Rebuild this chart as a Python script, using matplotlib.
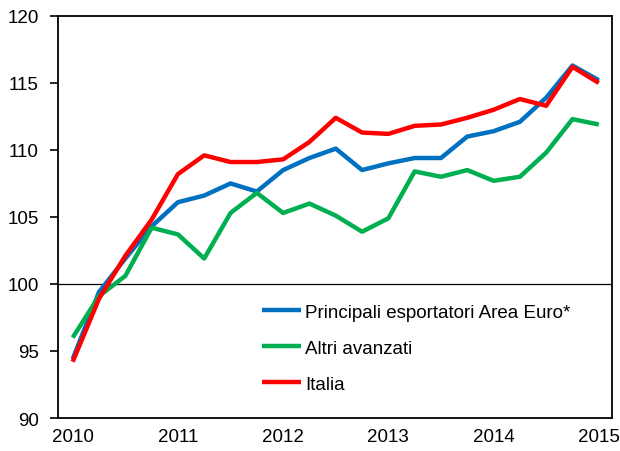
import matplotlib
matplotlib.use("Agg")
import matplotlib.pyplot as plt
import numpy as np

plt.rcParams['font.family'] = ['Liberation Sans', 'DejaVu Sans']

# trimestri 2010Q1 - 2015Q1
years = ["2010", "2011", "2012", "2013", "2014", "2015"]
euro_principali = [94.4, 99.4, 101.9, 104.3, 106.1, 106.6, 107.5, 106.9, 108.5, 109.4, 110.1,
                   108.5, 109.0, 109.4, 109.4, 111.0, 111.4, 112.1, 113.9, 116.3, 115.2]
altri_avanzati = [96.0, 99.1, 100.6, 104.2, 103.7, 101.9, 105.3, 106.8, 105.3, 106.0, 105.1,
                  103.9, 104.9, 108.4, 108.0, 108.5, 107.7, 108.0, 109.8, 112.3, 111.9]
italia = [94.2, 98.9, 102.1, 104.8, 108.2, 109.6, 109.1, 109.1, 109.3, 110.6, 112.4,
          111.3, 111.2, 111.8, 111.9, 112.4, 113.0, 113.8, 113.3, 116.2, 115.0]
labels = ["Principali esportatori Area Euro*", "Altri avanzati", "Italia"]
colors = ["#0070C0", "#00B050", "#FF0000"]

x = np.arange(len(italia))

fig = plt.figure(figsize=(6.2, 4.52), dpi=100)
ax = fig.add_axes([0.0935, 0.073, 0.8935, 0.8895])

for serie, lab, col in zip([euro_principali, altri_avanzati, italia], labels, colors):
    ax.plot(x, serie, color=col, lw=3.2, label=lab, solid_capstyle='butt')

ax.axhline(100, color='black', lw=0.9, zorder=1)

ax.set_xlim(-0.56, 20.5)
ax.set_ylim(90, 120)
ax.set_yticks(np.arange(90, 121, 5))
ax.set_xticks(np.arange(0, len(x), 4))
ax.set_xticklabels(years)
ax.tick_params(axis='x', length=0, pad=7, labelsize=13.5)
ax.tick_params(axis='y', direction='out', length=6, width=1.2, pad=8, labelsize=13.5)

for s in ax.spines.values():
    s.set_linewidth(1.3)

ax.legend(loc='upper left', bbox_to_anchor=(0.368, 0.284), frameon=False,
          fontsize=13.5, borderpad=0, borderaxespad=0, handlelength=2.1,
          handletextpad=0.2, labelspacing=1.0)

fig.savefig("out.png", dpi=100)
